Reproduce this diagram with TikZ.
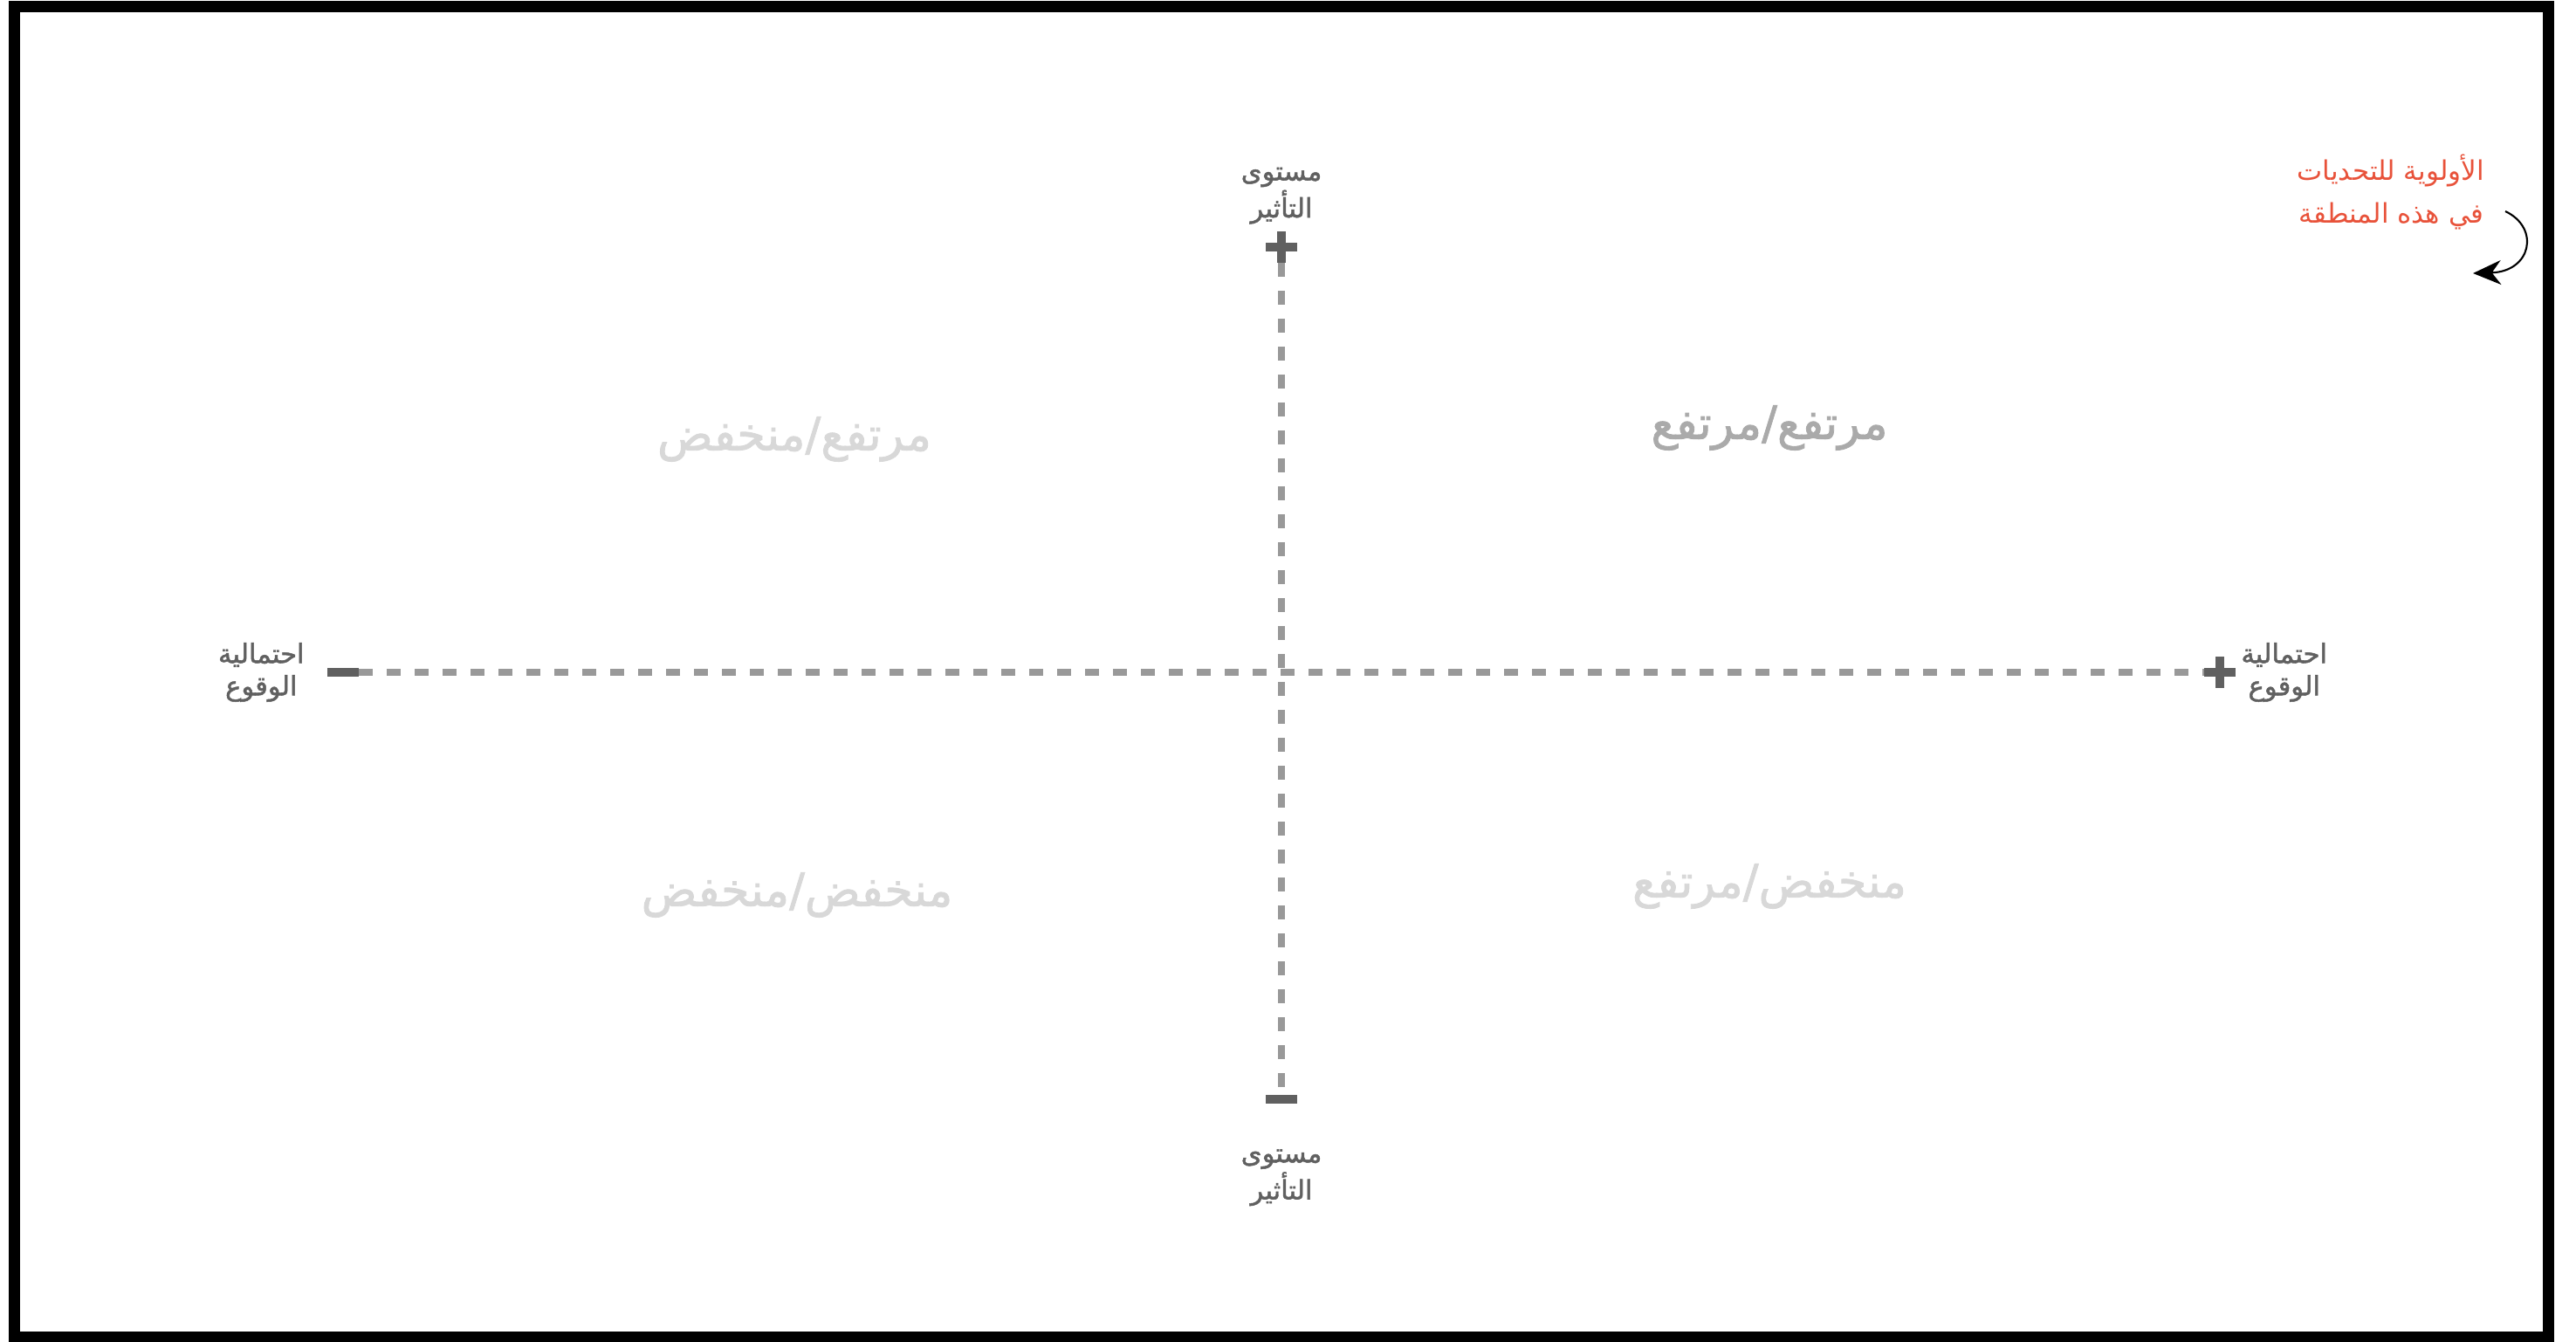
\documentclass[tikz,border=0pt]{standalone}
\usepackage{fontspec}
\usepackage{tikz}
\usetikzlibrary{arrows.meta, positioning, calc}
\newfontfamily\arabicfont[Script=Arabic]{DejaVu Sans}
\newfontfamily\arabicheavy[Script=Arabic, FakeBold=1.6]{DejaVu Sans}
\TeXXeTstate=1
\definecolor{axisgray}{HTML}{999999}
\definecolor{markgray}{HTML}{606060}
\definecolor{labelgray}{HTML}{606060}
\definecolor{hotgray}{HTML}{AAAAAA}
\definecolor{softgray}{HTML}{D8D8D8}
\definecolor{noteRed}{HTML}{E8523A}

\begin{document}
\begin{tikzpicture}[
    axisline/.style={axisgray, line width=0.075cm, dash pattern=on 0.16cm off 0.16cm},
    endmark/.style={markgray, line width=0.10cm},
    axislabel/.style={text=labelgray, align=center, font=\arabicheavy\fontsize{8.7}{10.5}\selectfont},
    quadlabel/.style={font=\arabicheavy\fontsize{15}{18}\selectfont},
    notelabel/.style={text=noteRed, align=right, font=\arabicfont\fontsize{8.8}{14}\selectfont}
]

    % Moldura
    \useasboundingbox (0,0) rectangle (29.51,15.36);
    \draw[line width=0.13cm] (0.165,0.045) rectangle (29.19,15.285);

    % Coordenadas dos eixos
    \coordinate (origin) at (14.68, 7.66);
    \coordinate (impact_top) at (14.68, 12.53);
    \coordinate (impact_bot) at (14.68, 2.77);
    \coordinate (prob_left) at (3.93, 7.66);
    \coordinate (prob_right) at (25.43, 7.66);

    % Eixos tracejados
    \draw[axisline] ($ (prob_left) + (0.18,0) $) -- ($ (prob_right) + (-0.18,0) $);
    \draw[axisline] ($ (impact_top) + (0,-0.18) $) -- ($ (impact_bot) + (0,0.05) $);

    % Marcas + e -
    \draw[endmark] ($ (impact_top) + (-0.18,0) $) -- ++(0.36,0);
    \draw[endmark] ($ (impact_top) + (0,-0.18) $) -- ++(0,0.36);
    \draw[endmark] ($ (prob_right) + (-0.18,0) $) -- ++(0.36,0);
    \draw[endmark] ($ (prob_right) + (0,-0.18) $) -- ++(0,0.36);
    \draw[endmark] ($ (prob_left) + (-0.18,0) $) -- ++(0.36,0);
    \draw[endmark] ($ (impact_bot) + (-0.18,0) $) -- ++(0.36,0);

    % Etiquetas dos eixos
    \node[axislabel, above=0.14 of impact_top] (impact_hi) {\beginR مستوى\endR\\ \beginR التأثير\endR};
    \node[axislabel, below=0.45 of impact_bot] (impact_lo) {\beginR مستوى\endR\\ \beginR التأثير\endR};
    \node[axislabel, left=0.32 of prob_left] (prob_lo) {\beginR احتمالية\endR\\ \beginR الوقوع\endR};
    \node[axislabel, right=0.12 of prob_right] (prob_hi) {\beginR احتمالية\endR\\ \beginR الوقوع\endR};

    % Quadrantes
    \node[quadlabel, text=hotgray] (q_hh) at (20.27, 10.46) {\beginR مرتفع/مرتفع\endR};
    \node[quadlabel, text=softgray] (q_hl) at (9.10, 10.33) {\beginR مرتفع/منخفض\endR};
    \node[quadlabel, text=softgray] (q_ll) at (9.13, 5.11) {\beginR منخفض/منخفض\endR};
    \node[quadlabel, text=softgray] (q_lh) at (20.27, 5.21) {\beginR منخفض/مرتفع\endR};

    % Nota de prioridade
    \node[notelabel, anchor=east] (note) at (28.58, 13.16) {\beginR الأولوية للتحديات\endR\\ \beginR في هذه المنطقة\endR};
    \coordinate (note_tip) at (28.33, 12.23);
    \draw[-{Stealth[length=0.32cm, width=0.28cm]}, semithick] ($ (note.east) + (0.12,-0.22) $) .. controls (29.1,12.75) and (29.0,12.25) .. (note_tip);

\end{tikzpicture}
\end{document}
